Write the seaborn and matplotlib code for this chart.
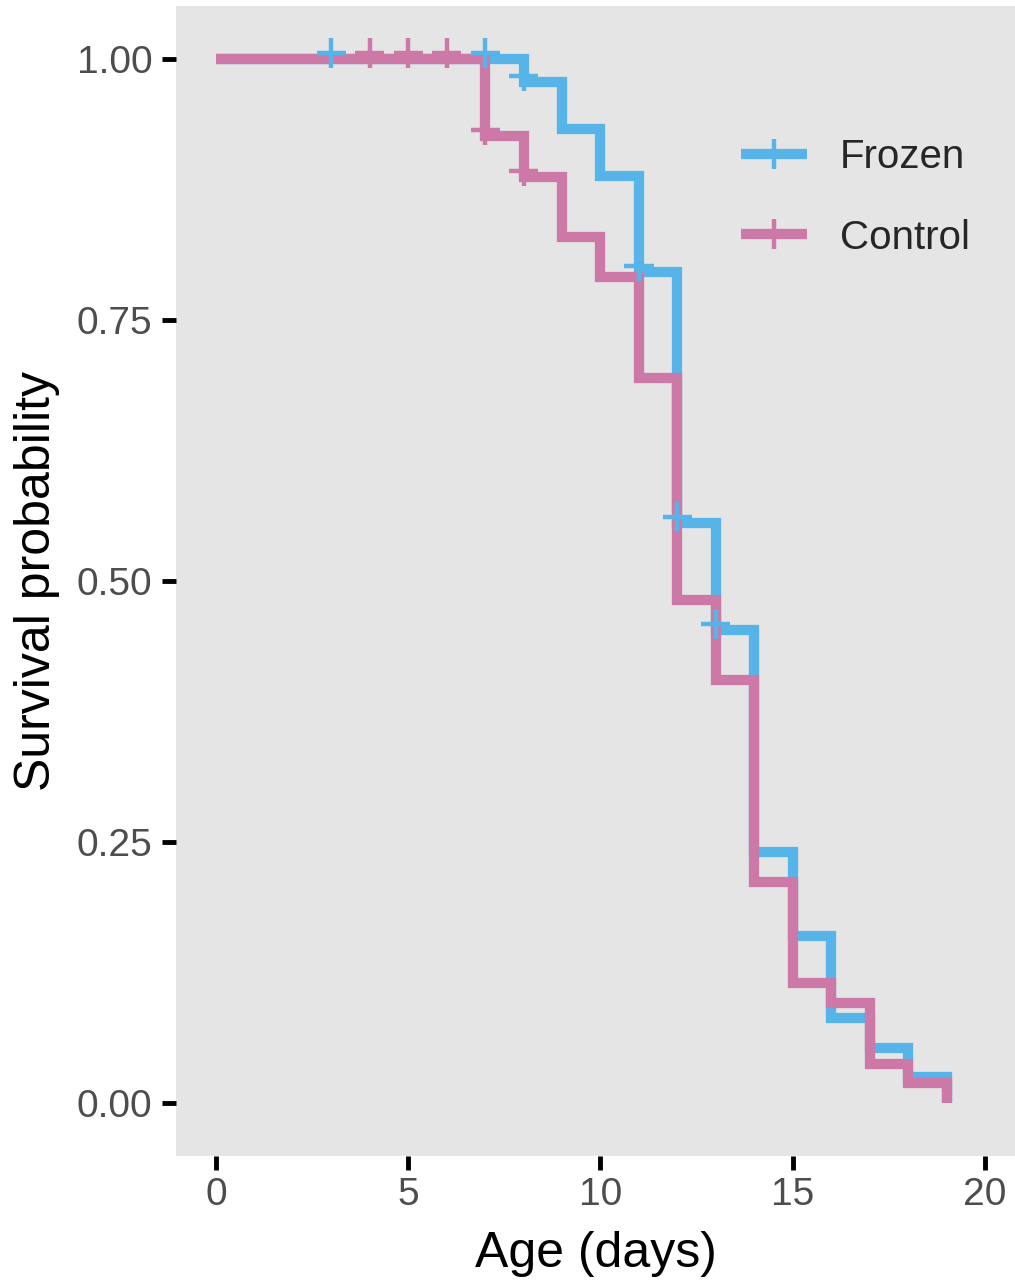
import numpy as np
import pandas as pd
import matplotlib
matplotlib.use("Agg")
import matplotlib.pyplot as plt
import matplotlib.transforms as mtransforms
from matplotlib.lines import Line2D
import seaborn as sns

# ---- data ----
groups = ["Frozen", "Control"]
frozen_time = [0, 8, 9, 10, 11, 12, 13, 14, 15, 16, 17, 18, 19]
frozen_surv = [1.0, 0.978, 0.933, 0.888, 0.796, 0.556, 0.453, 0.240, 0.160, 0.081, 0.053, 0.025, 0.0]
control_time = [0, 7, 8, 9, 10, 11, 12, 13, 14, 15, 16, 17, 18, 19]
control_surv = [1.0, 0.926, 0.887, 0.830, 0.791, 0.694, 0.482, 0.405, 0.212, 0.115, 0.096, 0.037, 0.019, 0.0]
frozen_cens_time = [3, 7, 8, 11, 12, 13]
frozen_cens_surv = [1.0, 1.0, 0.978, 0.796, 0.556, 0.453]
control_cens_time = [4, 5, 6, 7, 8]
control_cens_surv = [1.0, 1.0, 1.0, 0.926, 0.887]
x_ticks = [0, 5, 10, 15, 20]
y_ticks = [0.0, 0.25, 0.50, 0.75, 1.00]
y_tick_labels = ["0.00", "0.25", "0.50", "0.75", "1.00"]
colors = {"Frozen": "#56B4E9", "Control": "#CC79A7"}

curves = pd.DataFrame({
    "time": frozen_time + control_time,
    "surv": frozen_surv + control_surv,
    "group": ["Frozen"] * len(frozen_time) + ["Control"] * len(control_time),
})
cens = pd.DataFrame({
    "time": frozen_cens_time + control_cens_time,
    "surv": frozen_cens_surv + control_cens_surv,
    "group": ["Frozen"] * len(frozen_cens_time) + ["Control"] * len(control_cens_time),
})

sns.set_style("ticks", {"axes.facecolor": "#E5E5E5", "axes.grid": False})
plt.rcParams["font.family"] = ["Liberation Sans", "DejaVu Sans"]

fig = plt.figure(figsize=(10.15, 12.8), dpi=100)
ax = fig.add_axes([176 / 1015, 124 / 1280, 839 / 1015, 1150 / 1280])

LW = 7.4
MS = 21
MEW = 3.2

sns.lineplot(data=curves, x="time", y="surv", hue="group", hue_order=groups,
             palette=colors, estimator=None, sort=False, legend=False,
             drawstyle="steps-post", linewidth=LW, ax=ax,
             solid_capstyle="butt", solid_joinstyle="miter")
n_before = len(ax.collections)
sns.scatterplot(data=cens, x="time", y="surv", hue="group", hue_order=groups,
                palette=colors, marker="+", s=MS ** 2, linewidth=MEW,
                legend=False, zorder=3, ax=ax)
# censor marks sit slightly above the curve, as in the reference
for coll in ax.collections[n_before:]:
    coll.set_offset_transform(mtransforms.offset_copy(ax.transData, fig=fig,
                                                       x=0, y=6, units="dots"))

ax.set_xlim(-1.04, 20.78)
ax.set_ylim(-0.0508, 1.0508)
ax.set_xticks(x_ticks)
ax.set_yticks(y_ticks)
ax.set_yticklabels(y_tick_labels)
for s in ax.spines.values():
    s.set_visible(False)
ax.tick_params(axis="both", direction="out", length=10, width=3.5, color="black",
               labelsize=28, labelcolor="#4D4D4D")
ax.tick_params(axis="x", pad=5)
ax.tick_params(axis="y", pad=7)
ax.set_xlabel("Age (days)", fontsize=36, color="black", labelpad=13)
ax.set_ylabel("Survival probability", fontsize=36, color="black", labelpad=12)

handles = [Line2D([0], [0], color=colors[g], lw=LW, marker="+", markersize=MS,
                  markeredgewidth=MEW, solid_capstyle="butt") for g in groups]
ax.legend(handles, groups, loc="upper left", bbox_to_anchor=(0.673, 0.885),
          frameon=False, fontsize=29, handlelength=1.64, handletextpad=0.82,
          labelspacing=1.05, borderpad=0, borderaxespad=0, numpoints=1)

fig.savefig("out.png", dpi=100, facecolor="white")
